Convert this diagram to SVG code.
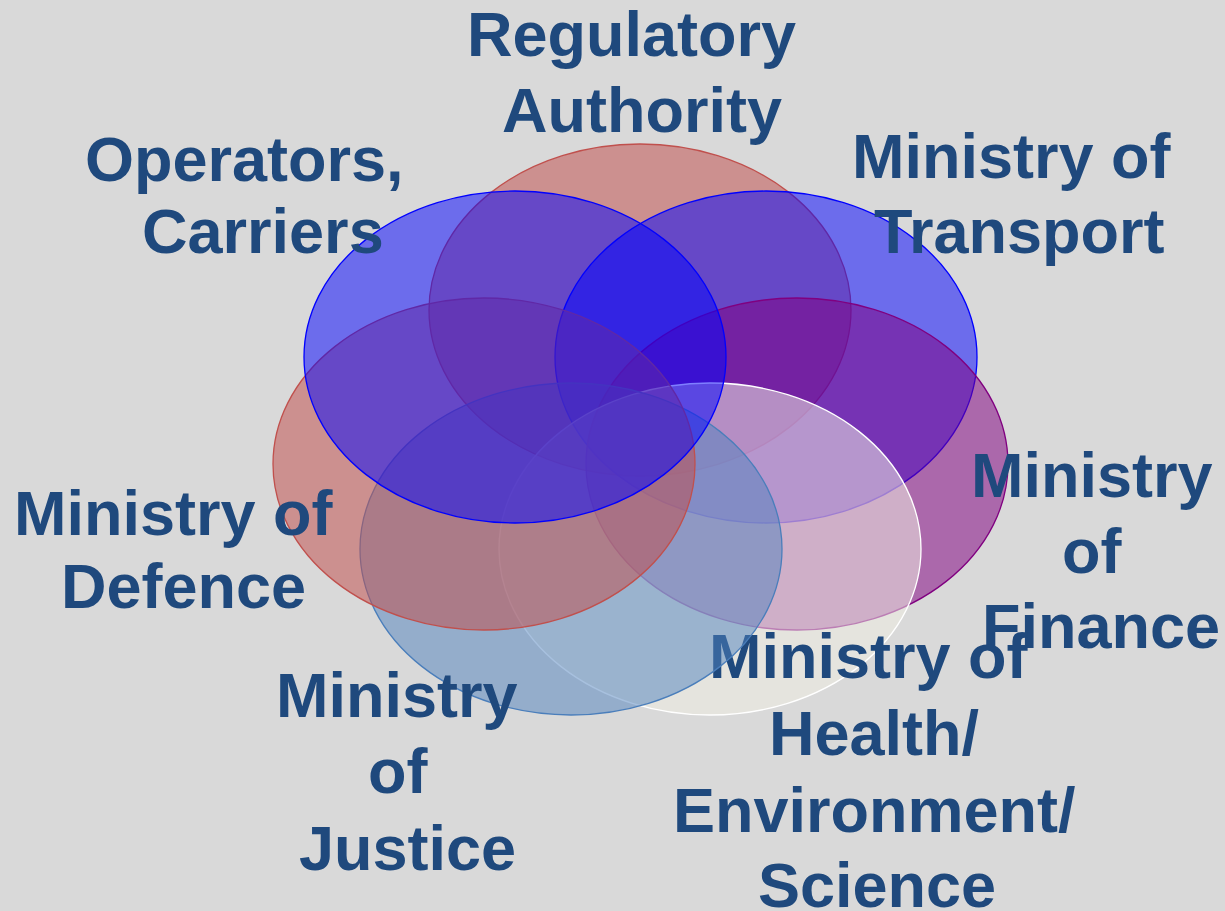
<svg xmlns="http://www.w3.org/2000/svg" width="1225" height="911" viewBox="0 0 1225 911">
<style>
.lbl{font-family:"Liberation Sans",Arial,Helvetica,sans-serif;font-weight:bold;font-size:63px;fill:#1f497d}
.e{stroke-width:1.3}
.red{fill:#c0504d;fill-opacity:0.53;stroke:#c0504d}
.blue{fill:#0000ff;fill-opacity:0.5;stroke:#0000ff}
.purple{fill:#800080;fill-opacity:0.52;stroke:#800080}
.steel{fill:#4f81bd;fill-opacity:0.5;stroke:#4a7ebb}
.cream{fill:#f0eee3;fill-opacity:0.53;stroke:#ffffff}
</style>
<rect width="1225" height="911" fill="#d9d9d9"/>
<g id="regulatory">
<ellipse class="e red" cx="640" cy="310" rx="211" ry="166"/>
<text class="lbl" x="467" y="56">Regulatory</text>
<text class="lbl" x="502" y="132">Authority</text>
</g>
<g id="transport">
<ellipse class="e blue" cx="766" cy="357" rx="211" ry="166"/>
<text class="lbl" x="852" y="178">Ministry of</text>
<text class="lbl" x="874" y="253">Transport</text>
</g>
<g id="finance">
<ellipse class="e purple" cx="797" cy="464" rx="211" ry="166"/>
<text class="lbl" x="971" y="497">Ministry</text>
<text class="lbl" x="1062" y="573">of</text>
<text class="lbl" x="982" y="648">Finance</text>
</g>
<g id="health">
<ellipse class="e cream" cx="710" cy="549" rx="211" ry="166"/>
<text class="lbl" x="709" y="678">Ministry of</text>
<text class="lbl" x="769" y="755">Health/</text>
<text class="lbl" x="673" y="832">Environment/</text>
<text class="lbl" x="758" y="907">Science</text>
</g>
<g id="justice">
<ellipse class="e steel" cx="571" cy="549" rx="211" ry="166"/>
<text class="lbl" x="276" y="717">Ministry</text>
<text class="lbl" x="368" y="793">of</text>
<text class="lbl" x="299" y="870">Justice</text>
</g>
<g id="defence">
<ellipse class="e red" cx="484" cy="464" rx="211" ry="166"/>
<text class="lbl" x="14" y="535">Ministry of</text>
<text class="lbl" x="61" y="608">Defence</text>
</g>
<g id="operators">
<ellipse class="e blue" cx="515" cy="357" rx="211" ry="166"/>
<text class="lbl" x="85" y="181">Operators,</text>
<text class="lbl" x="142" y="253">Carriers</text>
</g>
<g id="connectors"/>
</svg>
